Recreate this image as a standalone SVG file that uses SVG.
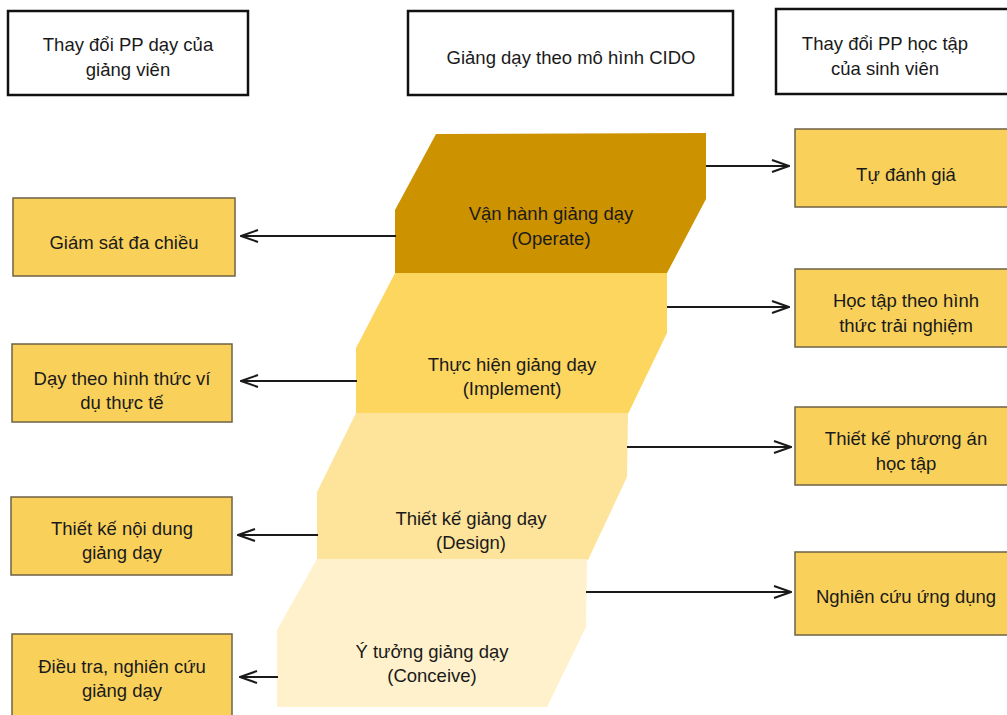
<svg xmlns="http://www.w3.org/2000/svg" width="1007" height="715" viewBox="0 0 1007 715">
<defs>
<style>
text{font-family:"Liberation Sans",Arial,sans-serif;font-size:18.5px;fill:#1a1a1a;text-anchor:middle}
.hdr{fill:#fff;stroke:#111;stroke-width:2.5}
.box{fill:#F9D15A;stroke:#6e6246;stroke-width:1.5}
.conn{stroke:#1a1a1a;stroke-width:2;fill:none;marker-end:url(#arr)}
</style>
<marker id="arr" viewBox="0 0 20 14" refX="19" refY="7" markerWidth="20" markerHeight="14" markerUnits="userSpaceOnUse" orient="auto">
<path d="M2,1 L19,7 L2,13" fill="none" stroke="#1a1a1a" stroke-width="2"/>
</marker>
</defs>
<rect width="1007" height="715" fill="#fff"/>

<g id="hdr-left"><rect class="hdr" x="8" y="11" width="240" height="84"/><text x="128" y="51">Thay đổi PP dạy của</text><text x="128" y="76">giảng viên</text></g>
<g id="hdr-center"><rect class="hdr" x="408" y="11" width="325" height="84"/><text x="571" y="64">Giảng dạy theo mô hình CIDO</text></g>
<g id="hdr-right"><rect class="hdr" x="776" y="9" width="240" height="85"/><text x="885" y="50">Thay đổi PP học tập</text><text x="885" y="75">của sinh viên</text></g>

<g id="operate"><polygon points="436,134 706,133 706,199 667,273 395,274 395,210" fill="#CD9200"/><text x="551" y="220">Vận hành giảng dạy</text><text x="551" y="245">(Operate)</text></g>
<g id="implement"><polygon points="395,273 667,273 667,333 628,414 356,414 356,348" fill="#FDD660"/><text x="512" y="371">Thực hiện giảng dạy</text><text x="512" y="395">(Implement)</text></g>
<g id="design"><polygon points="356,413 628,413 627,477 588,560 317,560 317,492" fill="#FEE39B"/><text x="471" y="525">Thiết kế giảng dạy</text><text x="471" y="549">(Design)</text></g>
<g id="conceive"><polygon points="317,559 587,559 586,627 547,707 277,707 277,630" fill="#FEF1CB"/><text x="432" y="658">Ý tưởng giảng dạy</text><text x="432" y="682">(Conceive)</text></g>

<g id="l1"><rect class="box" x="13" y="198" width="222" height="78"/><text x="124" y="249">Giám sát đa chiều</text></g>
<g id="l2"><rect class="box" x="12" y="344" width="220" height="78"/><text x="122" y="385">Dạy theo hình thức ví</text><text x="122" y="409">dụ thực tế</text></g>
<g id="l3"><rect class="box" x="11" y="497" width="221" height="78"/><text x="122" y="535">Thiết kế nội dung</text><text x="122" y="559">giảng dạy</text></g>
<g id="l4"><rect class="box" x="12" y="634" width="220" height="90"/><text x="122" y="673">Điều tra, nghiên cứu</text><text x="122" y="697">giảng dạy</text></g>

<g id="r1"><rect class="box" x="795" y="129" width="220" height="78"/><text x="906" y="181">Tự đánh giá</text></g>
<g id="r2"><rect class="box" x="795" y="269" width="220" height="78"/><text x="906" y="307">Học tập theo hình</text><text x="906" y="332">thức trải nghiệm</text></g>
<g id="r3"><rect class="box" x="795" y="407" width="220" height="78"/><text x="906" y="445">Thiết kế phương án</text><text x="906" y="470">học tập</text></g>
<g id="r4"><rect class="box" x="795" y="552" width="220" height="83"/><text x="906" y="603">Nghiên cứu ứng dụng</text></g>

<g id="connectors">
<line class="conn" x1="396" y1="236" x2="241" y2="236"/>
<line class="conn" x1="357" y1="381" x2="241" y2="381"/>
<line class="conn" x1="318" y1="535" x2="238" y2="535"/>
<line class="conn" x1="278" y1="677" x2="240" y2="677"/>
<line class="conn" x1="706" y1="166" x2="789" y2="166"/>
<line class="conn" x1="667" y1="307" x2="789" y2="307"/>
<line class="conn" x1="627" y1="447" x2="791" y2="447"/>
<line class="conn" x1="586" y1="592" x2="791" y2="592"/>
</g>
</svg>
